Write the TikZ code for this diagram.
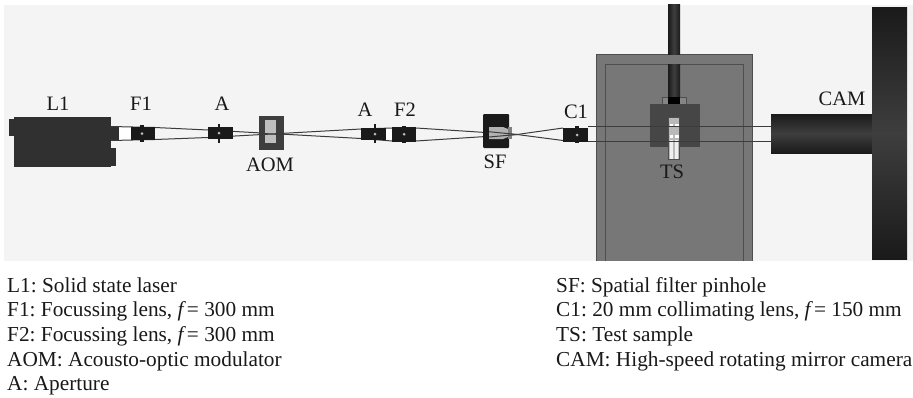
\documentclass[tikz,border=0pt]{standalone}
\usepackage{fontspec}
\setmainfont{Liberation Serif}
\frenchspacing
\definecolor{bg}{HTML}{F4F4F4}
\definecolor{dark}{HTML}{1A1A1A}
\definecolor{body}{HTML}{303030}
\definecolor{mid}{HTML}{3E3E3E}
\definecolor{table}{HTML}{777777}
\definecolor{edge}{HTML}{4E4E4E}
\definecolor{holder}{HTML}{464646}
\definecolor{beam}{HTML}{3C3C3C}
\newcommand{\mycomp}[7][]{%
  \node[part,fill=#7,#1,minimum width={((#5)-(#3))*1pt},minimum height={((#6)-(#4))*1pt}] (#2) at ({((#3)+(#5))/2},{((#4)+(#6))/2}) {};}
% optical element: name, x0,y0,x1,y1, blade centre, then blade half-width and top/bottom
\newcommand{\optic}[9]{%
  \mycomp{#1}{#2}{#3}{#4}{#5}{dark}
  \mycomp{#1blade}{#6-#7}{#8}{#6+#7}{#9}{dark}
  \node[part,circle,fill=gray!55,minimum size=3pt] (#1mark) at (#6,{(#3+#5)/2}) {};}
\tikzset{
  part/.style={inner sep=0pt,outer sep=0pt,rectangle,draw=none},
  beamline/.style={draw=beam,line width=1pt},
  lab/.style={inner sep=0pt,font=\fontsize{20.5}{24}\selectfont,text=black!90},
  legend/.style={inner sep=0pt,font=\fontsize{21.3}{25}\selectfont,text=black!90,anchor=base west},
  rod/.style={left color=dark,right color=dark,middle color=mid}
}
\begin{document}
\begin{tikzpicture}[x=1pt,y=-1pt]
\useasboundingbox (0,0) rectangle (913,397);
\fill[bg] (4,4.5) rectangle (913,261);
% white patches between the beam lines
\fill[white] (119,127) rectangle (131,140);
\fill[white] (386,128) rectangle (392,141);
% table
\mycomp{table}{596}{54}{752}{261}{table}
\draw[edge,line width=0.8pt] (596,261) -- (596,54) -- (752,54) -- (752,261);
\draw[edge,line width=0.9pt] (605.5,261) -- (605.5,64) -- (743,64) -- (743,261);
% laser
\mycomp{ltab}{9}{119}{14}{136}{body}
\mycomp{lsmall}{110}{148}{116}{166}{body}
\mycomp{lbody}{13.5}{117}{111}{167}{body}
\mycomp{lnoz}{111}{126}{119}{141}{body}
% beam anchors
\coordinate (b1a) at (111,126.5); \coordinate (b1b) at (111,140.5);
\coordinate (b2a) at (155,127.5); \coordinate (b2b) at (155,139.5);
\coordinate (b3a) at (208,130); \coordinate (b3b) at (208,137.5);
\coordinate (b4a) at (361,138.5); \coordinate (b4b) at (361,129);
\coordinate (b5a) at (392,128); \coordinate (b5b) at (392,141);
\coordinate (b6a) at (416,128); \coordinate (b6b) at (416,141);
\coordinate (cross) at (517,134.5);
\coordinate (b7a) at (563,140.5); \coordinate (b7b) at (563,128);
\coordinate (b8a) at (588,126.5); \coordinate (b8b) at (588,141.7);
\coordinate (b9a) at (771,126.5); \coordinate (b9b) at (771,141.7);
% stage on the table
\node[part,rod,minimum width=12pt,minimum height=50pt] (rodup) at (674,29) {};
\node[part,rod,minimum width=12pt,minimum height=36pt] (rodlow) at (674,82) {};
\mycomp[draw=edge,line width=0.7pt]{clamp}{662}{97}{686}{106.5}{table!90!white}
\mycomp{clampin}{668}{97}{680}{106.5}{black}
\mycomp{holder}{650}{103.5}{699.5}{147}{holder}
\mycomp[draw=edge,line width=0.6pt]{sample}{668.5}{117}{679.5}{159}{gray!55}
\mycomp{samplea}{670}{140}{673.3}{158.5}{white!88!gray}
\mycomp{sampleb}{674.7}{140}{678}{158.5}{white!88!gray}
\mycomp{spota}{669.5}{123.5}{673}{127}{white}
\mycomp{spotb}{675}{123.5}{678.5}{127}{white}
\mycomp{spotc}{669.5}{134.5}{673}{138}{white}
\mycomp{spotd}{675}{134.5}{678.5}{138}{white}
% beam
\draw[beamline] (b1a) -- (b2a) -- (b3a) -- (b4a);
\draw[beamline] (b1b) -- (b2b) -- (b3b) -- (b4b);
\draw[beamline] (b4b) -- (b5a);
\draw[beamline] (b4a) -- (b5b);
\draw[beamline] (b6a) -- (cross) -- (b7a);
\draw[beamline] (b6b) -- (cross) -- (b7b);
\draw[beamline] (b8a) -- (b9a);
\draw[beamline] (b8b) -- (b9b);
% optics
\optic{fone}{130.5}{127}{155}{140}{142}{2}{125}{141.5}
\optic{aone}{208}{127}{233}{139}{219}{1.2}{124}{143}
\mycomp{aom}{259}{116}{284}{150}{mid}
\mycomp{aomin}{265}{120}{276}{143}{gray!50}
\draw[beamline] (259,133.2) -- (284,134.8);
\draw[beamline] (259,134.8) -- (284,133.2);
\optic{atwo}{361}{128}{386}{140}{375}{1.2}{124}{143}
\optic{ftwo}{392}{127}{416}{141.5}{404}{2}{126}{142.5}
\optic{cone}{563}{128}{588}{142}{577}{2}{126}{142.5}
% spatial filter
\mycomp[rounded corners=1pt]{sf}{483}{114}{509}{148}{dark}
\fill[gray!60] (489,127) -- (503,127) -- (508,129) -- (508,137) -- (503,139) -- (489,139) -- cycle;
\mycomp{sftip}{508}{127}{512}{139}{gray}
\draw[beamline] (489,131.7) -- (cross);
\draw[beamline] (489,137) -- (cross);
% camera
\node[part,top color=dark,bottom color=dark,middle color=mid,minimum width=101pt,minimum height=39pt] (camarm) at (821.5,133.5) {};
\node[part,top color=dark,bottom color=dark,middle color=mid,minimum width=35pt,minimum height=252pt] (camdisk) at (889.5,133) {};
% labels
\node[lab] (tl1) at (58,104) {L1};
\node[lab] (tf1) at (141,104) {F1};
\node[lab] (ta1) at (222,104) {A};
\node[lab] (taom) at (270,165) {AOM};
\node[lab] (ta2) at (365,110) {A};
\node[lab] (tf2) at (405,110) {F2};
\node[lab] (tsf) at (495,162) {SF};
\node[lab] (tc1) at (576,112) {C1};
\node[lab] (tts) at (672,172) {TS};
\node[lab] (tcam) at (842,99) {CAM};
% legend
\node[legend] (k1) at (7,292) {L1: Solid state laser};
\node[legend] (k2) at (7,316.5) {F1: Focussing lens, \textit{f}\kern1pt= 300 mm};
\node[legend] (k3) at (7,341) {F2: Focussing lens, \textit{f}\kern1pt= 300 mm};
\node[legend] (k4) at (7,366) {AOM: Acousto-optic modulator};
\node[legend] (k5) at (7,390.5) {A: Aperture};
\node[legend] (k6) at (556,292) {SF: Spatial filter pinhole};
\node[legend] (k7) at (556,316.5) {C1: 20 mm collimating lens, \textit{f}\kern1pt= 150 mm};
\node[legend] (k8) at (556,341) {TS: Test sample};
\node[legend] (k9) at (556,366) {CAM: High-speed rotating mirror camera};
\end{tikzpicture}
\end{document}
